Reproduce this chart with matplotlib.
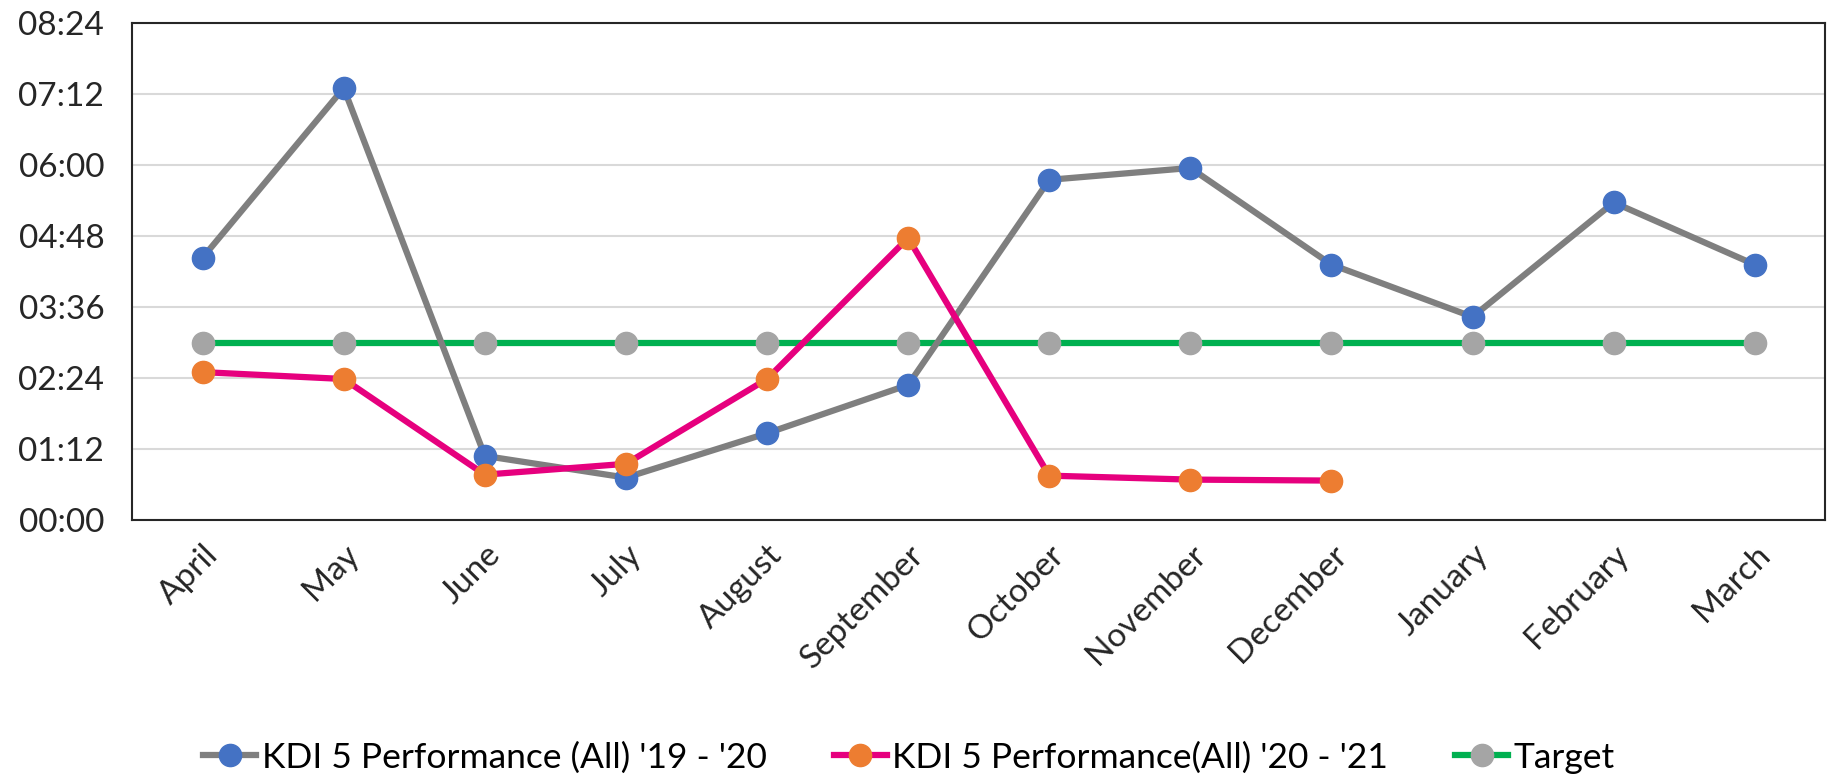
import matplotlib.pyplot as plt
from matplotlib.ticker import FuncFormatter, MultipleLocator

months = ['April', 'May', 'June', 'July', 'August', 'September',
          'October', 'November', 'December', 'January', 'February', 'March']

# times as h:mm
perf_1920 = ['4:26', '7:18', '1:05', '0:43', '1:28', '2:17',
             '5:45', '5:57', '4:19', '3:26', '5:22', '4:19']
perf_2021 = ['2:30', '2:23', '0:46', '0:57', '2:23', '4:46',
             '0:45', '0:41', '0:40']
target = ['3:00'] * 12


def to_min(s):
    h, m = s.split(':')
    return int(h) * 60 + int(m)


def hhmm(v, pos):
    v = int(round(v))
    return '%02d:%02d' % (v // 60, v % 60)


plt.rcParams['font.family'] = ['Lato', 'DejaVu Sans']

fig = plt.figure(figsize=(18.29, 7.82), dpi=100)
ax = fig.add_axes([0.0722, 0.335, 0.9258, 0.6356])

x = list(range(len(months)))

ax.plot(x, [to_min(v) for v in target], color='#00B050', lw=4.5,
        marker='o', ms=16, mfc='#A5A5A5', mec='#A5A5A5',
        label='Target', zorder=2)
ax.plot(x, [to_min(v) for v in perf_1920], color='#7F7F7F', lw=4.5,
        marker='o', ms=16, mfc='#4472C4', mec='#4472C4',
        label="KDI 5 Performance (All) '19 - '20", zorder=3)
ax.plot(x[:len(perf_2021)], [to_min(v) for v in perf_2021], color='#E6007E',
        lw=4.5, marker='o', ms=16, mfc='#ED7D31', mec='#ED7D31',
        label="KDI 5 Performance(All) '20 - '21", zorder=4)

ax.set_xlim(-0.5, 11.5)
ax.set_ylim(0, 504)
ax.yaxis.set_major_locator(MultipleLocator(72))
ax.yaxis.set_major_formatter(FuncFormatter(hhmm))
ax.grid(axis='y', color='#D9D9D9', lw=1.5, zorder=0)
ax.set_axisbelow(True)

ax.set_xticks(x)
ax.set_xticklabels(months, rotation=45, ha='right', va='top',
                   rotation_mode='anchor')
ax.tick_params(axis='both', length=0, labelsize=24, colors='#262626', pad=14)
ax.tick_params(axis='y', pad=20)
for s in ax.spines.values():
    s.set_color('#262626')
    s.set_linewidth(1.5)

h, l = ax.get_legend_handles_labels()
order = [1, 2, 0]
fig.legend([h[i] for i in order], [l[i] for i in order], loc='lower center',
           bbox_to_anchor=(0.497, -0.03), ncol=3, frameon=False, fontsize=25.5,
           handlelength=1.5, columnspacing=1.9, handletextpad=0.15)

fig.savefig('out.png', dpi=100)
